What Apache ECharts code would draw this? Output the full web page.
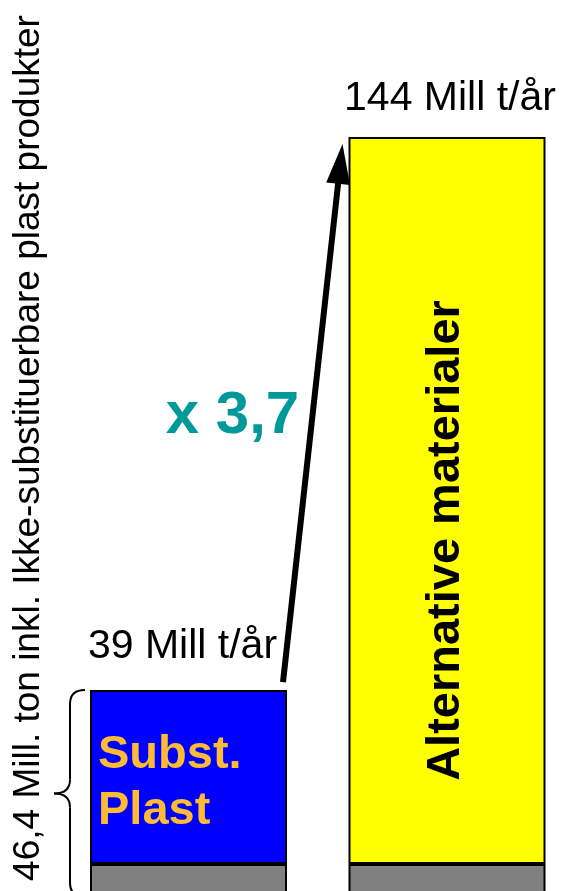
<!DOCTYPE html>
<html><head><meta charset="utf-8">
<script src="https://cdn.jsdelivr.net/npm/echarts@6/dist/echarts.min.js"></script>
<style>html,body{margin:0;padding:0;background:#fff}#c{width:563px;height:891px}</style>
</head><body><div id="c"></div>
<script>
// ---- data (heights as drawn in the picture, Mill t/år) ----
const categories = ['Subst. plast', 'Alternative materialer'];
const nonSubstValues = [7.4, 7.4];          // ikke-substituerbare (grey base)
const substValues = [39, '-'];              // substituerbar plast (blue)
const altValues = ['-', 163];               // alternative materialer (yellow, drawn height)
const topLabels = ['39 Mill t/år', '144 Mill t/år'];
const substLabel = 'Subst.\nPlast';
const altLabel = 'Alternative materialer';
const factorLabel = 'x 3,7';
const yAxisTitle = '46,4 Mill. ton inkl. Ikke-substituerbare plast produkter';

const FONT = '"Liberation Sans", Arial, sans-serif';
const chart = echarts.init(document.getElementById('c'), null, {renderer: 'canvas'});
const BAR_W = 197;

const option = {
  animation: false,
  backgroundColor: '#fff',
  grid: {left: 188.5, right: 116, top: 5, bottom: 0, containLabel: false},
  xAxis: {type: 'category', data: categories, show: false, boundaryGap: false},
  yAxis: {
    type: 'value', min: 1.35, max: 200,
    axisLine: {show: false}, axisTick: {show: false}, axisLabel: {show: false}, splitLine: {show: false},
    name: yAxisTitle, nameLocation: 'middle', nameRotate: 90, nameGap: 141,
    nameTextStyle: {fontFamily: FONT, fontSize: 37, color: '#000'}
  },
  series: [
    {name: 'Ikke-substituerbar', type: 'bar', stack: 'a', clip: false, data: nonSubstValues, barWidth: BAR_W,
     itemStyle: {color: '#808080', borderColor: '#000', borderWidth: 2}},
    {name: 'Subst. plast', type: 'bar', stack: 'a', clip: false, data: substValues, barWidth: BAR_W,
     itemStyle: {color: '#0000FF', borderColor: '#000', borderWidth: 2},
     label: {show: true, position: 'insideLeft', distance: 8, offset: [0, 6], formatter: substLabel,
       color: '#FFBB33', fontWeight: 'bold', fontSize: 47, lineHeight: 56, fontFamily: FONT}},
    {name: 'Alternative materialer', type: 'bar', stack: 'a', clip: false, data: altValues, barWidth: BAR_W,
     itemStyle: {color: '#FFFF00', borderColor: '#000', borderWidth: 2},
     label: {show: true, position: 'inside', rotate: 90, offset: [-40, -1], formatter: altLabel,
       color: '#000', fontWeight: 'bold', fontSize: 47, fontFamily: FONT}}
  ]
};
chart.setOption(option);

// ---- annotations positioned through the chart's own scales ----
const px = (i, v) => chart.convertToPixel({gridIndex: 0}, [i, v]);
const tot0 = nonSubstValues[0] + substValues[0];
const tot1 = nonSubstValues[1] + altValues[1];
const top0 = px(0, tot0), top1 = px(1, tot1), base0 = px(0, 0);

// arrow from bar 1 to bar 2
const sx = top0[0] + BAR_W / 2 - 4, sy = top0[1] - 8;
const tx = top1[0] - BAR_W / 2 - 6, ty = top1[1] + 7;
const dx = tx - sx, dy = ty - sy, L = Math.hypot(dx, dy);
const ux = dx / L, uy = dy / L, nx = -uy, ny = ux;
const headL = 40, headW = 12;
const bx = tx - ux * headL, by = ty - uy * headL;

// brace along bar 1
const bTop = top0[1], bBot = base0[1];
const bMid = (bTop + bBot) / 2;
const lx = top0[0] - BAR_W / 2 - 20;
const braceStyle = {stroke: '#000', lineWidth: 2, fill: null};
const c = 14;
const brace = [
  {type: 'bezierCurve', shape: {x1: lx + 15, y1: bTop, cpx1: lx, cpy1: bTop, x2: lx, y2: bTop + c}},
  {type: 'line', shape: {x1: lx, y1: bTop + c, x2: lx, y2: bMid - c}},
  {type: 'bezierCurve', shape: {x1: lx, y1: bMid - c, cpx1: lx, cpy1: bMid, x2: lx - 16, y2: bMid}},
  {type: 'bezierCurve', shape: {x1: lx - 16, y1: bMid, cpx1: lx, cpy1: bMid, x2: lx, y2: bMid + c}},
  {type: 'line', shape: {x1: lx, y1: bMid + c, x2: lx, y2: bBot - c}},
  {type: 'bezierCurve', shape: {x1: lx, y1: bBot - c, cpx1: lx, cpy1: bBot, x2: lx + 15, y2: bBot}}
].map(e => Object.assign(e, {style: braceStyle, z: 100}));

chart.setOption({
  graphic: [
    {type: 'line', shape: {x1: sx, y1: sy, x2: bx + ux * 2, y2: by + uy * 2}, style: {stroke: '#000', lineWidth: 6}, z: 100},
    {type: 'polygon', shape: {points: [[tx, ty], [bx + nx * headW, by + ny * headW], [bx - nx * headW, by - ny * headW]]}, style: {fill: '#000'}, z: 100},
    ...brace,
    {type: 'text', x: top0[0] - 6, y: top0[1] - 43, style: {text: topLabels[0], fill: '#000', font: `41px ${FONT}`, align: 'center', verticalAlign: 'middle'}, z: 100},
    {type: 'text', x: top1[0] + 3, y: top1[1] - 38, style: {text: topLabels[1], fill: '#000', font: `41px ${FONT}`, align: 'center', verticalAlign: 'middle'}, z: 100},
    {type: 'text', x: top0[0] + 44, y: sy - 266, style: {text: factorLabel, fill: '#009999', font: `bold 60px ${FONT}`, align: 'center', verticalAlign: 'middle'}, z: 100}
  ]
});
</script></body></html>
